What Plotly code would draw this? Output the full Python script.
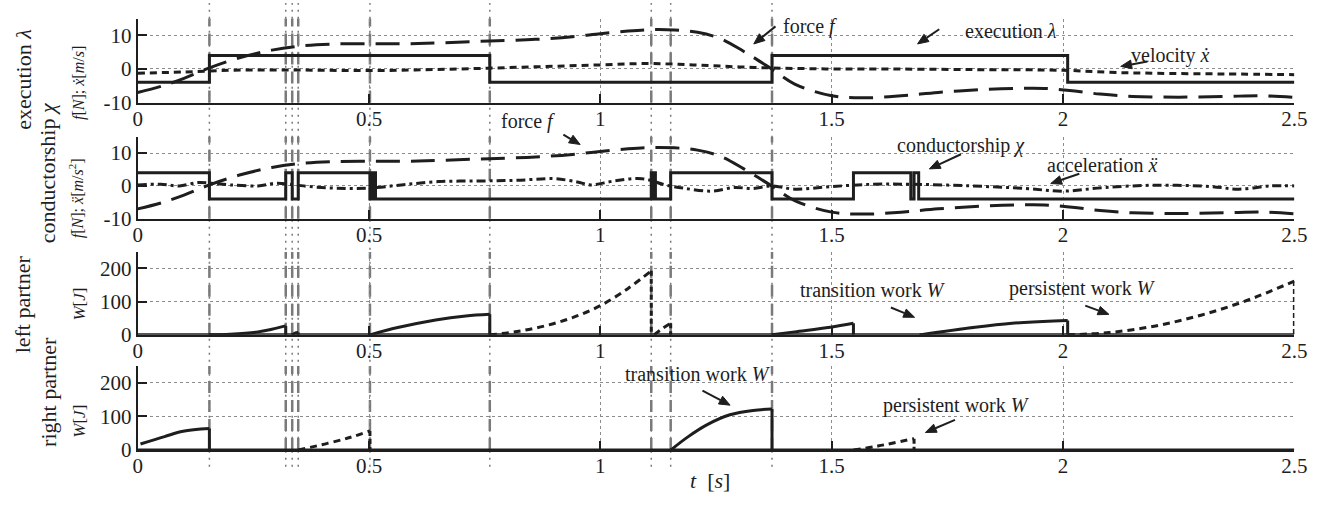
import math
import plotly.graph_objects as go

W_PX, H_PX = 1335, 506

# ---------------- data ----------------
t_ticks = [0, 0.5, 1, 1.5, 2, 2.5]
t_tick_text = ["0", "0.5", "1", "1.5", "2", "2.5"]

# switching instants marked by vertical lines
t_switch = [0.155, 0.32, 0.334, 0.347, 0.502, 0.761, 1.110, 1.152, 1.371]

# interaction force f [N]
t_force = [0, 0.05, 0.1, 0.155, 0.22, 0.29, 0.35, 0.42, 0.5, 0.58, 0.66, 0.76, 0.86,
           0.94, 1.0, 1.06, 1.11, 1.16, 1.21, 1.26, 1.31, 1.37, 1.42, 1.5, 1.57, 1.65,
           1.73, 1.82, 1.9, 1.96, 2.02, 2.08, 2.15, 2.25, 2.35, 2.43, 2.5]
force = [-7.0, -5.2, -2.8, 0.3, 3.3, 5.6, 6.8, 7.4, 7.5, 7.5, 7.8, 8.3, 8.8,
         9.6, 10.5, 11.3, 11.7, 11.6, 10.9, 9.0, 5.2, 0.0, -4.5, -8.0, -8.6, -8.0,
         -7.0, -6.2, -5.8, -5.8, -6.5, -7.5, -8.2, -8.4, -8.2, -8.0, -8.5]

# velocity x-dot [m/s]
t_vel = [0, 0.1, 0.2, 0.3, 0.4, 0.5, 0.6, 0.7, 0.8, 0.9, 1.0, 1.1, 1.2, 1.3, 1.4, 1.5,
         1.6, 1.8, 2.0, 2.1, 2.2, 2.35, 2.5]
velocity = [-1.3, -0.9, -0.4, -0.3, -0.4, -0.5, -0.3, 0.0, 0.4, 0.8, 1.2, 1.6, 1.2, 0.6,
            0.2, 0.0, 0.0, -0.2, -0.4, -1.0, -1.3, -1.5, -1.7]

# acceleration x-ddot [m/s^2]
t_acc = [0, 0.05, 0.09, 0.13, 0.16, 0.2, 0.26, 0.3, 0.34, 0.37, 0.43, 0.5, 0.57, 0.65,
         0.74, 0.82, 0.9, 0.95, 0.98, 1.03, 1.09, 1.14, 1.18, 1.24, 1.29, 1.33, 1.37,
         1.42, 1.5, 1.59, 1.67, 1.8, 1.92, 2.0, 2.09, 2.2, 2.32, 2.38, 2.45, 2.5]
acceleration = [0.3, 0.5, 0.0, 1.0, 0.8, 0.3, 0.0, 0.8, 0.3, -0.2, -0.7, -0.7, 0.3, 1.3,
                1.5, 1.7, 2.2, 1.2, 0.3, 1.5, 2.2, 0.3, -0.7, -1.6, -0.5, -0.8, 0.0,
                -1.0, -0.2, 0.5, 0.5, 0.0, -0.8, -1.6, -0.5, 0.2, -0.2, -1.0, 0.0, 0.0]

# execution lambda (step signal, value holds until next instant)
t_exec = [0, 0.155, 0.761, 1.371, 2.01, 2.5]
execution = [-4, 4, -4, 4, -4, -4]

# conductorship chi (step signal)
t_cond = [0, 0.155, 0.32, 0.334, 0.347, 0.502, 0.505, 0.508, 0.511, 0.514,
          1.110, 1.113, 1.116, 1.119, 1.152, 1.371, 1.547, 1.671, 1.678, 1.688, 2.5]
conductorship = [4, -4, 4, -4, 4, -4, 4, -4, 4, -4,
                 4, -4, 4, -4, 4, -4, 4, -4, 4, -4, -4]

# left partner: transition work W [J] (segments)
left_trans_t = [[0.155, 0.2, 0.26, 0.29, 0.32],
                [0.502, 0.562, 0.644, 0.709, 0.761],
                [1.371, 1.42, 1.497, 1.547],
                [1.69, 1.81, 1.89, 1.98, 2.01]]
left_trans_w = [[0, 2, 9, 17, 27],
                [0, 22, 45, 57, 62],
                [0, 9, 23, 35],
                [0, 23, 35, 42, 43]]

# left partner: persistent work W [J]
left_pers_t = [[0.334, 0.34, 0.347],
               [0.761, 0.82, 0.88, 0.94, 1.0, 1.06, 1.110],
               [1.116, 1.13, 1.152],
               [2.01, 2.1, 2.2, 2.3, 2.4, 2.5]]
left_pers_w = [[0, 5, 7],
               [0, 10, 27, 52, 88, 140, 193],
               [0, 15, 35],
               [0, 7, 27, 60, 105, 162]]

# right partner: transition work W [J]
right_trans_t = [[0.006, 0.058, 0.098, 0.155],
                 [1.152, 1.19, 1.23, 1.28, 1.33, 1.371]]
right_trans_w = [[18, 40, 56, 64],
                 [0, 40, 75, 105, 118, 122]]

# right partner: persistent work W [J]
right_pers_t = [[0.347, 0.41, 0.46, 0.502],
                [1.547, 1.6, 1.678]]
right_pers_w = [[0, 20, 38, 57],
                [0, 12, 34]]

# ---------------- layout helpers ----------------
INK = "#1e1e1e"
GREY = "#7a7a7a"
SERIF = "Liberation Serif"

def fx(p):
    return p / W_PX

def fy(p):
    return 1 - p / H_PX

x_dom = [fx(134.5), fx(1307)]
panel_px = [(19, 105), (140, 224), (258, 343), (375, 461)]

fig = go.Figure()

def axis_names(i):
    return ("x" if i == 1 else f"x{i}"), ("y" if i == 1 else f"y{i}")

def add_line(i, x, y, dash="solid", width=3, shape="linear", color=INK):
    xr, yr = axis_names(i)
    fig.add_trace(go.Scatter(x=x, y=y, xaxis=xr, yaxis=yr, mode="lines",
                             line=dict(color=color, width=width, dash=dash, shape=shape),
                             connectgaps=False, hoverinfo="skip"))

def join_segments(ts, ws):
    xs, ys = [], []
    for t, w in zip(ts, ws):
        xs += list(t) + [None]
        ys += list(w) + [None]
    return xs, ys

def drops(ts, ws):
    xs, ys = [], []
    for t, w in zip(ts, ws):
        xs += [t[-1], t[-1], None]
        ys += [w[-1], 0, None]
    return xs, ys

LONG = "24px,11px"
SHORT = "7px,5px"
DASHDOT = "9px,4px,3px,4px"

# panel 1: execution
add_line(1, t_force, force, dash=LONG, width=3, shape="spline")
add_line(1, t_vel, velocity, dash=SHORT, width=3, shape="spline")
add_line(1, t_exec, execution, width=3, shape="hv")

# panel 2: conductorship
add_line(2, t_force, force, dash=LONG, width=3, shape="spline")
add_line(2, t_acc, acceleration, dash=DASHDOT, width=3, shape="spline")
add_line(2, t_cond, conductorship, width=3, shape="hv")

# panels 3 and 4: work of each partner
for i, (tt, tw, pt, pw) in ((3, (left_trans_t, left_trans_w, left_pers_t, left_pers_w)),
                             (4, (right_trans_t, right_trans_w, right_pers_t, right_pers_w))):
    px_, py_ = join_segments(pt, pw)
    add_line(i, px_, py_, dash=SHORT, width=3, shape="spline")
    dx, dy = drops(pt, pw)
    add_line(i, dx, dy, dash="5px,3px", width=3)
    add_line(i, [0, 2.5], [0, 0], width=3)
    sx, sy = join_segments(tt, tw)
    add_line(i, sx, sy, width=3, shape="spline")
    dx, dy = drops(tt, tw)
    add_line(i, dx, dy, width=3)

# axes
layout = dict(width=W_PX, height=H_PX, margin=dict(l=0, r=0, t=0, b=0),
              paper_bgcolor="white", plot_bgcolor="white", showlegend=False,
              font=dict(family=SERIF, size=20, color=INK))
y_ranges = [[-10, 15], [-10, 15], [0, 250], [0, 250]]
y_ticks = [[-10, 0, 10], [-10, 0, 10], [0, 100, 200], [0, 100, 200]]
for i, (top, bot) in enumerate(panel_px, start=1):
    xk = "xaxis" if i == 1 else f"xaxis{i}"
    yk = "yaxis" if i == 1 else f"yaxis{i}"
    xr, yr = axis_names(i)
    layout[xk] = dict(domain=x_dom, anchor=yr, range=[0, 2.5], tickvals=t_ticks,
                      ticktext=t_tick_text, ticks="inside", ticklen=9, tickwidth=1.5,
                      tickcolor=INK, showline=True, linewidth=2, linecolor=INK,
                      showgrid=True, gridcolor="#8c8c8c", griddash="dot", gridwidth=1,
                      zeroline=False, ticklabelstandoff=-4,
                      tickfont=dict(family=SERIF, size=21, color=INK))
    layout[yk] = dict(domain=[fy(bot), fy(top)], anchor=xr, range=y_ranges[i - 1],
                      tickvals=y_ticks[i - 1], ticktext=[str(v) for v in y_ticks[i - 1]],
                      ticks="inside", ticklen=9, tickwidth=1.5, tickcolor=INK,
                      showline=True, linewidth=2, linecolor=INK, showgrid=True,
                      gridcolor="#8c8c8c", griddash="dot", gridwidth=1, zeroline=False,
                      tickfont=dict(family=SERIF, size=21, color=INK))
fig.update_layout(**layout)

# vertical switching markers: dotted through the whole figure, dashed inside each panel
shapes = []
for ts in t_switch:
    shapes.append(dict(type="line", xref="x", yref="paper", x0=ts, x1=ts,
                       y0=fy(478), y1=fy(3), line=dict(color=GREY, width=1.5, dash="2px,5px"),
                       layer="below"))
    for i in range(1, 5):
        yd = "y domain" if i == 1 else f"y{i} domain"
        shapes.append(dict(type="line", xref="x", yref=yd, x0=ts, x1=ts, y0=0, y1=1,
                           line=dict(color=GREY, width=2.5, dash="12px,7px"), layer="below"))

# call-out arrows built as a shaft plus a filled head
def arrow(tail, head, head_len=11, head_half=4.5):
    dx, dy = head[0] - tail[0], head[1] - tail[1]
    n = math.hypot(dx, dy)
    ux, uy = dx / n, dy / n
    bx, by = head[0] - ux * head_len, head[1] - uy * head_len
    shapes.append(dict(type="line", xref="paper", yref="paper",
                       x0=fx(tail[0]), y0=fy(tail[1]), x1=fx(bx), y1=fy(by),
                       line=dict(color=INK, width=2)))
    p1 = (bx - uy * head_half, by + ux * head_half)
    p2 = (bx + uy * head_half, by - ux * head_half)
    path = (f"M {fx(head[0])} {fy(head[1])} L {fx(p1[0])} {fy(p1[1])} "
            f"L {fx(p2[0])} {fy(p2[1])} Z")
    shapes.append(dict(type="path", xref="paper", yref="paper", path=path,
                       fillcolor=INK, line=dict(color=INK, width=1)))

arrow((781, 27), (759, 45))
arrow((947, 30), (925, 45))
arrow((1158, 63), (1131, 68))
arrow((566, 138), (583, 148))
arrow((969, 158), (937, 173))
arrow((1089, 178), (1060, 188))
arrow((898, 315), (922, 325))
arrow((1095, 313), (1119, 322))
arrow((707, 400), (735, 415))
arrow((963, 430), (933, 443))
fig.update_layout(shapes=shapes)

# labels
ann = []

def text(px, py, s, size=20, angle=0):
    ann.append(dict(x=fx(px), y=fy(py), xref="paper", yref="paper", text=s,
                    showarrow=False, textangle=angle, xanchor="center", yanchor="middle",
                    font=dict(family=SERIF, size=size, color=INK)))

# row titles
text(18, 81, "execution <i>λ</i>", size=22, angle=-90)
text(43, 177, "conductorship <i>χ</i>", size=22, angle=-90)
text(18, 312, "left partner", size=22, angle=-90)
text(44, 401, "right partner", size=22, angle=-90)

# y-axis titles
text(75, 85, "<i>f</i>[<i>N</i>]; <i>ẋ</i>[<i>m</i>/<i>s</i>]", size=16, angle=-90)
text(72, 203, "<i>f</i>[<i>N</i>]; <i>ẍ</i>[<i>m</i>/<i>s</i><sup>2</sup>]", size=16, angle=-90)
text(76, 311, "<i>W</i>[<i>J</i>]", size=17, angle=-90)
text(76, 431, "<i>W</i>[<i>J</i>]", size=17, angle=-90)

# x-axis title
text(715, 492, "<i>t</i>  [<i>s</i>]", size=22)

# curve call-outs
text(816, 27, "force <i>f</i>")
text(1020, 32, "execution <i>λ</i>")
text(1181, 57, "velocity <i>ẋ</i>")
text(530, 124, "force <i>f</i>")
text(969, 149, "conductorship <i>χ</i>")
text(1112, 169, "acceleration <i>ẍ</i>")
text(880, 297, "transition work <i>W</i>")
text(1092, 296, "persistent work <i>W</i>")
text(702, 383, "transition work <i>W</i>")
text(964, 415, "persistent work <i>W</i>")

fig.update_layout(annotations=ann)

fig.write_html("out.html")
